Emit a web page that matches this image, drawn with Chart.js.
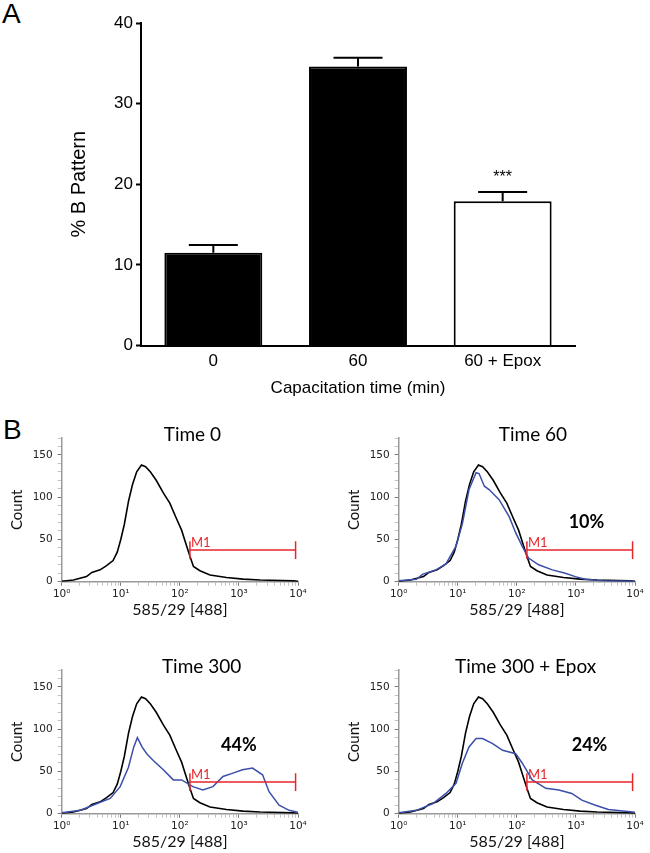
<!DOCTYPE html>
<html lang="en">
<head>
<meta charset="UTF-8">
<title>B pattern / flow cytometry</title>
<script src="https://cdn.jsdelivr.net/npm/chart.js@4"></script>
<style>
  html, body { margin: 0; padding: 0; background: #fff; overflow: hidden; }
  #wrap { position: relative; width: 650px; height: 853px; }
  canvas { position: absolute; }
  .panel { position: absolute; font-family: "Liberation Sans", Arial, sans-serif; font-size: 28px; line-height: 28px; color: #000; }
</style>
</head>
<body>
<div id="wrap">
  <div class="panel" style="left:2px; top:0px;">A</div>
  <div class="panel" style="left:3px; top:416px;">B</div>
  <canvas id="barChart" width="650" height="400" style="left:0; top:0;"></canvas>
  <canvas id="h0" width="312" height="226" style="left:0; top:395px;"></canvas>
  <canvas id="h1" width="312" height="226" style="left:337px; top:395px;"></canvas>
  <canvas id="h2" width="312" height="226" style="left:0; top:627px;"></canvas>
  <canvas id="h3" width="312" height="226" style="left:337px; top:627px;"></canvas>
</div>
<script>
// ---- panel A data ----
const groups = ['0', '60', '60 + Epox'];
const bPattern = [11.5, 34.6, 17.9];
const bPatternSem = [0.95, 1.1, 1.15];
const sigMarks = ['', '', '***'];

// ---- panel B data (fluorescence channel, count) ----
const controlX = [1, 1.58, 2.63, 3.24, 4.47, 5.75, 7.41, 8.71, 10, 11.5, 13.5, 15.8, 18.6, 22.4, 26.3, 31.6, 39.8, 52.5, 67.6, 87.1, 107, 129, 148, 170, 219, 324, 617, 1175, 2291, 8318, 10000];
const controlY = [0.5, 2, 6, 11, 14, 19, 25, 35, 50, 68, 95, 115, 130, 138, 136, 130, 120, 105, 93, 75, 61, 43, 30, 18, 13, 8, 5, 3, 2, 1, 0.5];

const time60X = [1, 2.0, 2.57, 4.27, 6.31, 9.33, 12.0, 15.5, 20.4, 22.9, 28.2, 33.9, 50.1, 74.1, 95.5, 123, 158, 234, 398, 661, 977, 1445, 2754, 10000];
const time60Y = [1, 3, 9, 14, 21, 42, 69, 109, 129, 128, 113, 109, 97, 77, 58, 42, 28, 20, 14, 10, 6, 3, 1.2, 0.4];

const time300X = [1, 2.09, 3.98, 6.61, 9.77, 13.5, 16.6, 19.1, 22.9, 27.5, 35.5, 52.5, 77.6, 107, 166, 245, 363, 537, 794, 1148, 1698, 2512, 3236, 4786, 7079, 10000];
const time300Y = [1, 4, 12, 18, 32, 55, 79, 90, 79, 71, 63, 52, 40, 40, 32, 28, 32, 44, 48, 52, 54, 46, 26, 10, 4, 1.6];

const epoxX = [1, 2.0, 3.8, 6.31, 9.33, 12.0, 15.5, 20.4, 26.3, 38.9, 57.5, 95.5, 123, 182, 309, 513, 851, 1259, 2138, 3548, 10000];
const epoxY = [1, 4, 12, 24, 36, 60, 79, 89, 89, 83, 75, 71, 60, 40, 30, 28, 24, 16, 10, 5, 1.6];

// M1 marker (drawn as one path: left cap, bar, right cap)
const gateX = [148, 148, 148, 9100, 9100, 9100];
const gateY = [27, 48, 37.5, 37.5, 48, 27];
const gateLabelY = 46;

const panelTitles = ['Time 0', 'Time 60', 'Time 300', 'Time 300 + Epox'];
const sampleX = [null, time60X, time300X, epoxX];
const sampleY = [null, time60Y, time300Y, epoxY];
const pctLabels = ['', '10%', '44%', '24%'];
const pctX = [null, 1510, 1000, 1700];
const pctY = [null, 70, 81, 81];
const decadeLabels = ['10\u2070', '10\u00b9', '10\u00b2', '10\u00b3', '10\u2074'];

// layout only: where each title sits across the plot width
const titleCenter = [0.553, 0.568, 0.592, 0.537];

const errorBars = {
  id: 'errorBars',
  afterDatasetsDraw(chart) {
    const { ctx, scales: { y } } = chart;
    const meta = chart.getDatasetMeta(0);
    ctx.save();
    ctx.strokeStyle = '#000';
    ctx.lineWidth = 2;
    meta.data.forEach((bar, i) => {
      const top = y.getPixelForValue(bPattern[i]);
      const hi = y.getPixelForValue(bPattern[i] + bPatternSem[i]);
      const half = bar.width / 4;
      ctx.beginPath();
      ctx.moveTo(bar.x, top);
      ctx.lineTo(bar.x, hi);
      ctx.moveTo(bar.x - half, hi);
      ctx.lineTo(bar.x + half, hi);
      ctx.stroke();
      if (sigMarks[i]) {
        ctx.fillStyle = '#000';
        ctx.font = '16px "Liberation Sans"';
        ctx.textAlign = 'center';
        ctx.textBaseline = 'alphabetic';
        ctx.fillText(sigMarks[i], bar.x, hi - 10);
      }
    });
    ctx.restore();
  }
};

const barFont = { family: '"Liberation Sans", Arial, sans-serif', size: 17 };

new Chart(document.getElementById('barChart'), {
  type: 'bar',
  data: {
    labels: groups,
    datasets: [{
      data: bPattern,
      backgroundColor: ['#000', '#000', '#fff'],
      borderColor: '#000',
      borderWidth: 2,
      barPercentage: 0.677,
      categoryPercentage: 1
    }]
  },
  options: {
    responsive: false,
    animation: false,
    devicePixelRatio: 1,
    layout: { padding: { top: 23, right: 75, bottom: 0, left: 0 } },
    plugins: { legend: { display: false }, tooltip: { enabled: false } },
    scales: {
      x: {
        grid: { display: false },
        border: { color: '#000', width: 2 },
        ticks: { color: '#000', font: barFont, padding: -2 },
        title: { display: true, text: 'Capacitation time (min)', color: '#000', font: barFont, padding: { top: 0, bottom: 1 } },
        afterFit(s) { s.height = 54.5; }
      },
      y: {
        min: 0, max: 40,
        ticks: { stepSize: 10, color: '#000', font: barFont, padding: 3 },
        grid: { drawOnChartArea: false, tickLength: 5, tickWidth: 2, tickColor: '#000' },
        border: { color: '#000', width: 2 },
        title: { display: true, text: '% B Pattern', color: '#000', font: { family: '"Liberation Sans", Arial, sans-serif', size: 20 }, padding: { top: 67, bottom: 0 } },
        afterFit(s) { s.width = 141; }
      }
    }
  },
  plugins: [errorBars]
});

// ---- histograms ----
const logTicks = [];
for (let k = 0; k < 4; k++) for (let m = 1; m < 10; m++) logTicks.push(m * Math.pow(10, k));
logTicks.push(10000);

const pts = (xs, ys) => xs.map((x, i) => ({ x, y: ys[i] }));
const isDecade = v => Math.abs(Math.log10(v) - Math.round(Math.log10(v))) < 1e-9;

const histText = {
  id: 'histText',
  afterDraw(chart, args, o) {
    const { ctx, chartArea, scales: { x, y } } = chart;
    ctx.save();
    ctx.fillStyle = '#000';
    ctx.textAlign = 'center';
    ctx.textBaseline = 'alphabetic';
    ctx.font = '19px Lato, "Noto Sans", sans-serif';
    ctx.fillText(o.title, chartArea.left + chartArea.width * o.titleFrac, chartArea.top + 3);
    if (o.pct) {
      ctx.font = 'bold 18px Lato, "Noto Sans", sans-serif';
      ctx.textBaseline = 'middle';
      ctx.fillText(o.pct, x.getPixelForValue(o.pctX), y.getPixelForValue(o.pctY));
    }
    ctx.fillStyle = '#e8262d';
    ctx.font = '13px Lato, "Noto Sans", sans-serif';
    ctx.textAlign = 'left';
    ctx.textBaseline = 'middle';
    ctx.fillText('M1', x.getPixelForValue(gateX[0]) + 1, y.getPixelForValue(gateLabelY));
    ctx.restore();
  }
};

function histogram(id, k) {
  const datasets = [{
    data: pts(gateX, gateY), borderColor: '#e8262d', borderWidth: 1.5, pointRadius: 0
  }];
  if (sampleX[k]) {
    datasets.push({ data: pts(sampleX[k], sampleY[k]), borderColor: '#3c4fa8', borderWidth: 1.5, pointRadius: 0 });
  }
  datasets.push({ data: pts(controlX, controlY), borderColor: '#000', borderWidth: 1.6, pointRadius: 0 });

  new Chart(document.getElementById(id), {
    type: 'line',
    data: { datasets },
    options: {
      responsive: false,
      animation: false,
      devicePixelRatio: 1,
      layout: { padding: { top: 43, right: 14, bottom: 0, left: 0 } },
      plugins: {
        legend: { display: false },
        tooltip: { enabled: false },
        histText: { title: panelTitles[k], titleFrac: titleCenter[k], pct: pctLabels[k], pctX: pctX[k], pctY: pctY[k] }
      },
      scales: {
        x: {
          type: 'logarithmic', min: 1, max: 10000,
          afterBuildTicks(s) { s.ticks = logTicks.map(v => ({ value: v })); },
          ticks: {
            autoSkip: false, maxRotation: 0, padding: 2, color: '#222',
            font: { family: '"DejaVu Sans", sans-serif', size: 10.5 },
            callback: v => isDecade(v) ? decadeLabels[Math.round(Math.log10(v))] : ''
          },
          grid: {
            drawOnChartArea: false, tickLength: 4, tickWidth: 1,
            tickColor: c => (c.tick && isDecade(c.tick.value)) ? '#777' : '#c4c4c4'
          },
          border: { color: '#999', width: 1.5 },
          title: { display: true, text: '585/29 [488]', color: '#111', font: { family: 'Lato, "Noto Sans", sans-serif', size: 16 }, padding: { top: 0, bottom: 1.5 } },
          afterFit(s) { s.height = 39.3; }
        },
        y: {
          min: 0, max: 170,
          ticks: {
            stepSize: 10, autoSkip: false, padding: 5, color: '#222',
            font: { family: '"DejaVu Sans", sans-serif', size: 10.5 },
            callback: v => v % 50 === 0 ? String(v) : ''
          },
          grid: {
            drawOnChartArea: false, tickLength: 4, tickWidth: 1,
            tickColor: c => (c.tick && c.tick.value % 50 === 0) ? '#777' : '#c4c4c4'
          },
          border: { color: '#999', width: 1.5 },
          title: { display: true, text: 'Count', color: '#111', font: { family: 'Lato, "Noto Sans", sans-serif', size: 15 }, padding: { top: 8, bottom: 0 } },
          afterFit(s) { s.width = 61.7; }
        }
      }
    },
    plugins: [histText]
  });
}

['h0', 'h1', 'h2', 'h3'].forEach((id, k) => histogram(id, k));
</script>
</body>
</html>
